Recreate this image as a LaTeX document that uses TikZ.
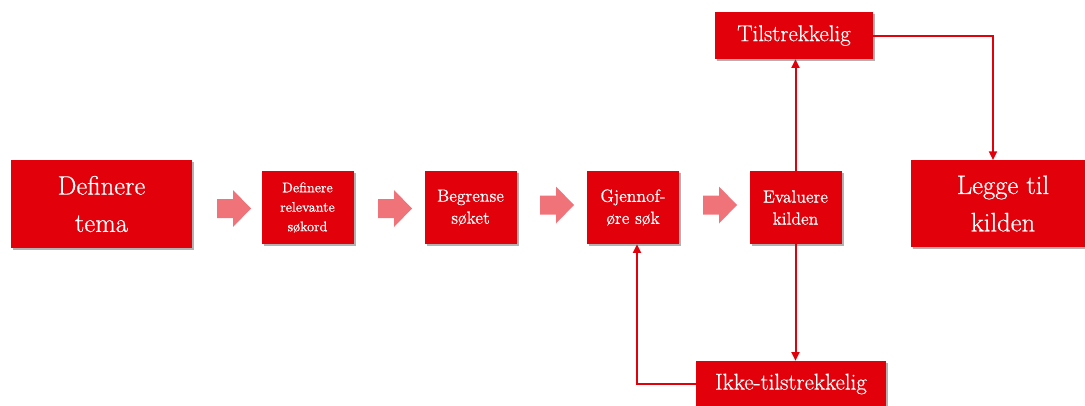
\documentclass[tikz,border=0pt]{standalone}
\usepackage{fontspec}
\newfontfamily\boxfont{Latin Modern Roman}[FakeBold=0.6]
\usetikzlibrary{shadows,arrows.meta}
\definecolor{boxred}{RGB}{226,0,10}
\definecolor{pinkc}{RGB}{241,115,122}
\begin{document}
\begin{tikzpicture}[x=0.75pt,y=-0.75pt,
  box/.style={rectangle,fill=boxred,text=white,inner sep=0pt,align=center,
    drop shadow={shadow xshift=1.8pt,shadow yshift=-1.8pt,opacity=0.3,fill=black}},
  bigbox/.style={box,minimum width=135.75pt,minimum height=66pt,font=\boxfont\fontsize{20}{28}\selectfont},
  midbox/.style={box,minimum width=69pt,minimum height=54.75pt,font=\boxfont\fontsize{13.2}{16.5}\selectfont},
  smallbox/.style={box,minimum width=69pt,minimum height=54.75pt,font=\boxfont\fontsize{10.5}{14.6}\selectfont},
  decbox/.style={box,minimum height=35.25pt,font=\boxfont\fontsize{17.2}{20}\selectfont},
  conn/.style={draw=boxred,line width=1.5pt,-{Triangle[width=6pt,length=6.5pt]}},
  barrow/.pic={\fill[pinkc] (0,-9.5) -- (16,-9.5) -- (16,-18.5) -- (34,0) -- (16,18.5) -- (16,9.5) -- (0,9.5) -- cycle;}
]
\useasboundingbox (0,0) rectangle (1085,405);
\node[bigbox] (d) at (101.5,204) {Definere\\tema};
\node[smallbox] (r) at (307.5,207.5) {Definere\\relevante\\søkord};
\node[midbox] (b) at (470.5,207.5) {Begrense\\søket};
\node[midbox] (g) at (633,207.5) {Gjennof-\\øre søk};
\node[midbox] (e) at (795.5,207.5) {Evaluere\\kilden};
\node[decbox,minimum width=118.5pt] (t) at (794,35.5) {Tilstrekkelig};
\node[decbox,minimum width=142.5pt,minimum height=34.5pt] (i) at (791,384) {Ikke-tilstrekkelig};
\node[bigbox,minimum width=138pt,minimum height=65.25pt] (l) at (1003,203.5) {Legge til\\kilden};
\pic at (217,208.5) {barrow};
\pic at (378,208.5) {barrow};
\pic at (540,205) {barrow};
\pic at (703,205) {barrow};
\coordinate (lt) at (993,160);
\coordinate (gb) at ([xshift=3pt]g.south);
\draw[conn] (e.north) -- (e.north |- t.south);
\draw[conn] (t.east) -| (lt);
\draw[conn] (e.south) -- (e.south |- i.north);
\draw[conn] (i.west) -| (gb);
\end{tikzpicture}
\end{document}
